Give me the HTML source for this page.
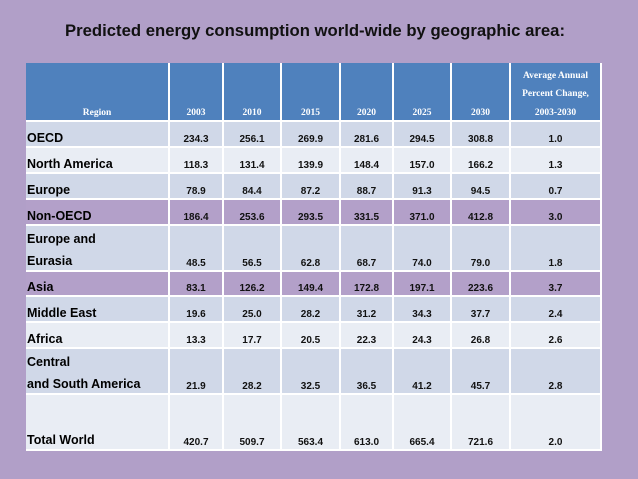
<!DOCTYPE html>
<html><head><meta charset="utf-8"><style>
body{margin:0;width:638px;height:479px;background:#b19fc8;position:relative;overflow:hidden;font-family:"Liberation Sans",Arial,sans-serif}
.c{position:absolute;box-sizing:border-box;border-right:2px solid #fff;border-bottom:2px solid #fff;}
.h{background:#4f81bd;color:#fff;font-family:"Liberation Serif",serif;font-weight:bold;font-size:9.5px;text-align:center}
.n{font-weight:bold;font-size:10px;text-align:center;color:#111}
.r{font-weight:bold;font-size:12.5px;color:#000;padding-left:1px}
</style></head><body>
<svg width="638" height="60" style="position:absolute;left:0;top:0">
<text x="65" y="36" textLength="500" lengthAdjust="spacingAndGlyphs" font-family="Liberation Sans, sans-serif" font-weight="bold" font-size="17" fill="#111">Predicted energy consumption world-wide by geographic area:</text>
</svg>
<div id="tbl"></div>
<script>
const years=["2003","2010","2015","2020","2025","2030"];
const regions=["OECD","North America","Europe","Non-OECD","Europe and<br>Eurasia","Asia","Middle East","Africa","Central<br>and South America","Total World"];
const v2003=["234.3","118.3","78.9","186.4","48.5","83.1","19.6","13.3","21.9","420.7"];
const v2010=["256.1","131.4","84.4","253.6","56.5","126.2","25.0","17.7","28.2","509.7"];
const v2015=["269.9","139.9","87.2","293.5","62.8","149.4","28.2","20.5","32.5","563.4"];
const v2020=["281.6","148.4","88.7","331.5","68.7","172.8","31.2","22.3","36.5","613.0"];
const v2025=["294.5","157.0","91.3","371.0","74.0","197.1","34.3","24.3","41.2","665.4"];
const v2030=["308.8","166.2","94.5","412.8","79.0","223.6","37.7","26.8","45.7","721.6"];
const change=["1.0","1.3","0.7","3.0","1.8","3.7","2.4","2.6","2.8","2.0"];
const colX=[26,170,224,282,341,394,452,511,602];
const rowY=[63,122,148,174,200,226,272,297,323,349,395,451];
const fills=["#d0d8e8","#e9edf4","#d0d8e8","#b3a0c9","#d0d8e8","#b3a0c9","#d0d8e8","#e9edf4","#d0d8e8","#e9edf4"];
const T=document.getElementById('tbl');
function cell(x0,x1,y0,y1,cls,html,name,bg){
 const d=document.createElement('div');
 d.className='c '+cls;
 
 
 d.style.left=x0+'px';d.style.top=y0+'px';d.style.width=(x1-x0)+'px';d.style.height=(y1-y0)+'px';
 if(bg)d.style.background=bg;
 d.innerHTML=html;T.appendChild(d);return d;
}
cell(colX[0],colX[1],rowY[0],rowY[1],'h','<div style="position:absolute;bottom:0px;width:100%;line-height:14px">Region</div>','header-region');
years.forEach((y,i)=>{cell(colX[i+1],colX[i+2],rowY[0],rowY[1],'h','<div style="position:absolute;bottom:0px;width:100%;line-height:14px">'+y+'</div>','header-'+y);});
cell(colX[7],colX[8],rowY[0],rowY[1],'h','<div style="position:absolute;bottom:-2px;width:100%;line-height:18.5px">Average Annual<br>Percent Change,<br>2003-2030</div>','header-change');
const cols=[v2003,v2010,v2015,v2020,v2025,v2030,change];
regions.forEach((r,j)=>{
 const y0=rowY[j+1],y1=rowY[j+2];
 cell(colX[0],colX[1],y0,y1,'r','<div style="position:absolute;bottom:'+(j==9?-1:-2)+'px;line-height:'+(r.includes('<br>')?'22px':'20px')+'">'+r+'</div>','region-label',fills[j]);
 cols.forEach((c,i)=>{
  cell(colX[i+1],colX[i+2],y0,y1,'n','<div style="position:absolute;bottom:-2px;width:100%;line-height:16px">'+c[j]+'</div>','value-cell',fills[j]);
 });
});
</script>
</body></html>
